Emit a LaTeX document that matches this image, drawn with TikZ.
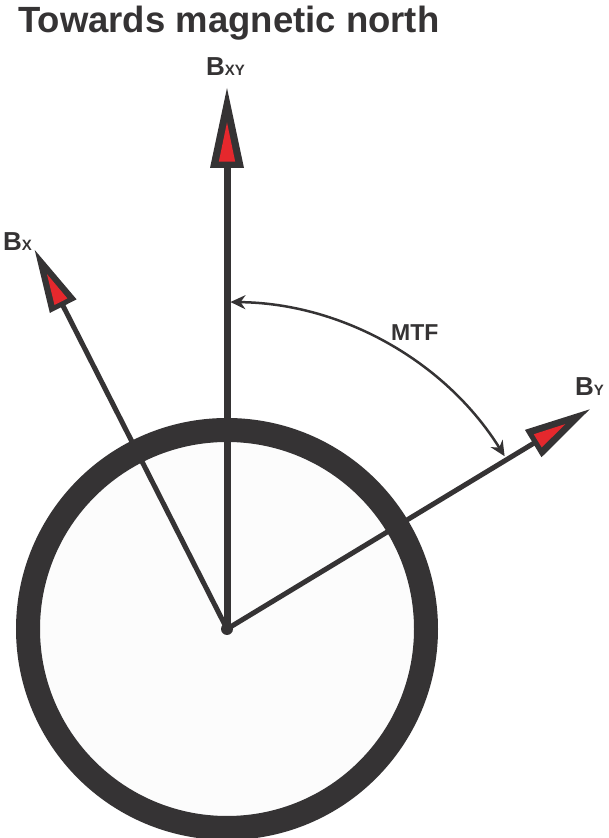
\documentclass[tikz,border=0pt]{standalone}
\usepackage{fontspec}
\setmainfont{Liberation Sans}
\usetikzlibrary{arrows.meta}

\definecolor{vecdark}{HTML}{353334}
\definecolor{vecred}{HTML}{E5282D}
\definecolor{dialfill}{HTML}{FCFCFC}

% outlined head with red inset: tip, direction, length, half width
\newcommand{\fieldhead}[4]{%
  \begin{scope}[shift={(#1)},rotate=#2]
    \fill[vecdark] (0,0) -- (-#3,#4) -- (-#3,-#4) -- cycle;
    \fill[vecred] (-0.43*#3,0) -- (-0.92*#3,0.48*#4) -- (-0.92*#3,-0.48*#4) -- cycle;
  \end{scope}}

\begin{document}
\begin{tikzpicture}[x=1pt,y=1pt,
  vec/.style={vecdark,line width=#1},
  lbl/.style={anchor=base west,inner sep=0pt,text=vecdark}]
  \useasboundingbox (0,0) rectangle (608,838);

  \coordinate (O) at (227,209);
  \coordinate (Bxy) at ([shift={(90:541)}]O);
  \coordinate (Bx) at ([shift={(116.9:425)}]O);
  \coordinate (By) at ([shift={(31.2:424)}]O);
  \coordinate (mtfY) at ([shift={(31.9:327)}]O);

  \draw[vecdark,fill=dialfill,line width=24pt] (O) circle (199);

  \draw[vec=7pt,shorten >=76pt] (O) -- (Bxy);
  \draw[vec=5pt,shorten >=60pt] (O) -- (Bx);
  \draw[vec=5pt,shorten >=62pt] (O) -- (By);
  \fieldhead{Bxy}{90}{80}{17}
  \fieldhead{Bx}{116.9}{63}{15}
  \fieldhead{By}{31.2}{66}{16}
  \fill[vecdark] (O) circle (6);

  \draw[vecdark,line width=2.5pt,{Stealth[length=15pt,width=14pt]}-{Stealth[length=15pt,width=14pt]}]
    (mtfY) arc[start angle=31.9,end angle=89.4,radius=327];

  \node[lbl,font=\bfseries\fontsize{36.5}{36.5}\selectfont] (title) at (18,805) {Towards magnetic north};
  \node[lbl,font=\bfseries] (lblXY) at (206,762) {\fontsize{26}{26}\selectfont B\fontsize{15}{15}\selectfont XY};
  \node[lbl,font=\bfseries] (lblX) at (3,587) {\fontsize{26}{26}\selectfont B\fontsize{15}{15}\selectfont X};
  \node[lbl,font=\bfseries] (lblY) at (575,442) {\fontsize{26}{26}\selectfont B\fontsize{15}{15}\selectfont Y};
  \node[lbl,font=\bfseries\fontsize{23}{23}\selectfont] (mtf) at (391,497) {MTF};
\end{tikzpicture}
\end{document}
